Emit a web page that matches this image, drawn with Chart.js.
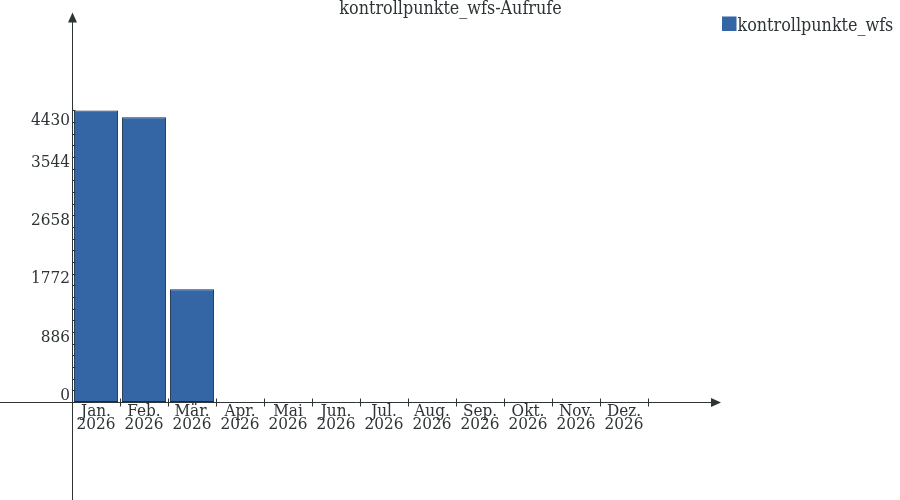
<!DOCTYPE html>
<html><head><meta charset="utf-8">
<script src="https://cdn.jsdelivr.net/npm/chart.js@4.4.1/dist/chart.umd.min.js"></script>
<style>html,body{margin:0;padding:0;background:#fff}canvas{display:block}</style>
</head><body>
<canvas id="c" width="900" height="500"></canvas>
<script>
const chartTitle = 'kontrollpunkte_wfs-Aufrufe';
const seriesName = 'kontrollpunkte_wfs';
const monthLabels = ['Jan.','Feb.','Mär.','Apr.','Mai','Jun.','Jul.','Aug.','Sep.','Okt.','Nov.','Dez.'];
const yearLabels = ['2026','2026','2026','2026','2026','2026','2026','2026','2026','2026','2026','2026'];
const values = [4430, 4327, 1713, 0, 0, 0, 0, 0, 0, 0, 0, 0];
const yTickValues = [0, 886, 1772, 2658, 3544, 4430];
const yMinorStep = 177.2;

const FONT = '"DejaVu Serif Condensed", "DejaVu Serif", serif';
const AXIS = '#2e3436';
const TEXT = '#2e3436';

const overlay = {
  id: 'overlay',
  afterDatasetsDraw(chart) {
    const ctx = chart.ctx, x = chart.scales.x, y = chart.scales.y;
    const y0 = Math.round(y.getPixelForValue(0)) + 0.5;
    const xAxisX = Math.round(x.left) + 0.5;
    ctx.save();
    ctx.strokeStyle = AXIS; ctx.fillStyle = AXIS; ctx.lineWidth = 1;
    // x axis line + arrow
    ctx.beginPath(); ctx.moveTo(0, y0); ctx.lineTo(713, y0); ctx.stroke();
    ctx.beginPath(); ctx.moveTo(721, y0); ctx.lineTo(711, y0 - 4.5); ctx.lineTo(711, y0 + 4.5); ctx.closePath(); ctx.fill();
    // y axis line + arrow
    ctx.beginPath(); ctx.moveTo(xAxisX, 500); ctx.lineTo(xAxisX, 21); ctx.stroke();
    ctx.beginPath(); ctx.moveTo(xAxisX, 12.5); ctx.lineTo(xAxisX - 4.5, 22.5); ctx.lineTo(xAxisX + 4.5, 22.5); ctx.closePath(); ctx.fill();
    // category boundary ticks
    const half = (x.getPixelForValue(1) - x.getPixelForValue(0)) / 2;
    for (let i = 0; i < monthLabels.length; i++) {
      const bx = Math.round(x.getPixelForValue(i) + half) + 0.5;
      ctx.beginPath(); ctx.moveTo(bx, y0 - 4); ctx.lineTo(bx, y0 + 4); ctx.stroke();
    }
    // y minor ticks
    const top = yTickValues[yTickValues.length - 1];
    for (let v = 0; v <= top + 0.01; v += yMinorStep) {
      const py = Math.round(y.getPixelForValue(v)) + 0.5;
      ctx.beginPath(); ctx.moveTo(xAxisX, py); ctx.lineTo(xAxisX + 3, py); ctx.stroke();
    }
    // y labels
    ctx.fillStyle = TEXT;
    ctx.font = '17px ' + FONT;
    ctx.textAlign = 'right'; ctx.textBaseline = 'alphabetic';
    yTickValues.forEach((v, i) => {
      const py = y.getPixelForValue(v);
      const base = (i === yTickValues.length - 1) ? py + 15 : py - 2;
      ctx.fillText(String(v), 70, base);
    });
    // x labels
    ctx.textAlign = 'center';
    monthLabels.forEach((m, i) => {
      const px = x.getPixelForValue(i);
      ctx.fillText(m, px, y0 + 13.5);
      ctx.fillText(yearLabels[i], px, y0 + 26.5);
    });
    // title
    ctx.font = '17.8px ' + FONT;
    ctx.fillText(chartTitle, 450.5, 14);
    // legend
    ctx.fillStyle = '#3465a4';
    ctx.fillRect(722, 16.5, 14.5, 14.5);
    ctx.fillStyle = TEXT; ctx.textAlign = 'left';
    ctx.fillText(seriesName, 737.5, 30.5);
    ctx.restore();
  }
};

new Chart(document.getElementById('c'), {
  type: 'bar',
  data: {
    labels: monthLabels,
    datasets: [{
      label: seriesName,
      data: values,
      backgroundColor: '#3465a4',
      borderColor: '#172b4a',
      borderWidth: 1,
      borderSkipped: false,
      barPercentage: 0.92,
      categoryPercentage: 1
    }]
  },
  options: {
    responsive: false,
    animation: false,
    devicePixelRatio: 1,
    layout: { padding: { left: 72, right: 252, top: 14, bottom: 98 } },
    scales: {
      x: { display: false },
      y: { display: false, min: 0, max: 5896 }
    },
    plugins: { legend: { display: false }, title: { display: false }, tooltip: { enabled: false } }
  },
  plugins: [overlay]
});
</script>
</body></html>
